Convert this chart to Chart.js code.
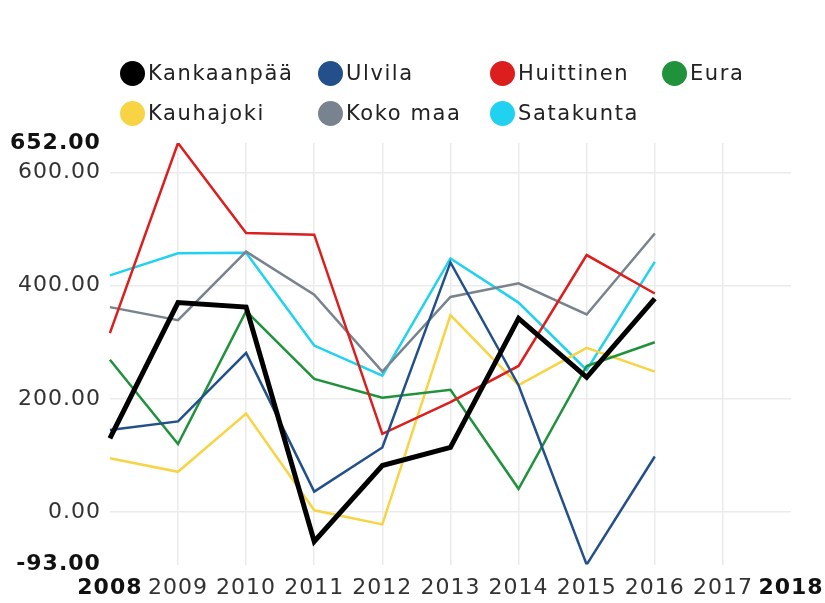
<!DOCTYPE html>
<html>
<head>
<meta charset="utf-8">
<script src="https://cdn.jsdelivr.net/npm/chart.js@4.4.1/dist/chart.umd.min.js"></script>
<style>
    html, body { margin: 0; padding: 0; background: #fff; }
    #wrap { position: relative; width: 825px; height: 603px; }
    #legend {
        position: absolute; left: 120px; top: 53px;
        display: grid; grid-template-columns: 198px 172px 172px auto;
        font: 21px "DejaVu Sans", sans-serif; color: #222; letter-spacing: 1.6px;
    }
    .item { display: flex; align-items: center; height: 40px; white-space: nowrap; }
    .dot { width: 25px; height: 25px; border-radius: 50%; margin-right: 3px; flex: none; }
</style>
</head>
<body>
<div id="wrap">
    <canvas id="chart" width="825" height="603"></canvas>
    <div id="legend"></div>
</div>
<script>
// Years on the x axis (data runs 2008-2016)
const years = ['2008', '2009', '2010', '2011', '2012', '2013', '2014', '2015', '2016', '2017', '2018'];
const yTicks = [-93, 0, 200, 400, 600, 652];

const kankaanpaa = [130, 370, 362, -52, 82, 114, 342, 238, 377];
const ulvila     = [145, 160, 281, 36, 114, 441, 224, -93, 98];
const huittinen  = [316, 652, 493, 490, 138, 194, 258, 454, 386];
const eura       = [269, 120, 355, 235, 202, 216, 41, 258, 300];
const kauhajoki  = [95, 71, 174, 3, -22, 348, 224, 290, 248];
const kokoMaa    = [362, 339, 460, 384, 248, 380, 404, 349, 492];
const satakunta  = [418, 457, 458, 294, 241, 448, 370, 251, 442];

const series = [
    { label: 'Kankaanpää', data: kankaanpaa, color: '#000000', width: 5 },
    { label: 'Ulvila', data: ulvila, color: '#23508a', width: 2.5 },
    { label: 'Huittinen', data: huittinen, color: '#dc1e1e', width: 2.5 },
    { label: 'Eura', data: eura, color: '#1f923b', width: 2.5 },
    { label: 'Kauhajoki', data: kauhajoki, color: '#f8d444', width: 2.5 },
    { label: 'Koko maa', data: kokoMaa, color: '#79838f', width: 2.5 },
    { label: 'Satakunta', data: satakunta, color: '#21d2f0', width: 2.5 }
];

const yMin = yTicks[0];
const yMax = yTicks[yTicks.length - 1];
const font = 'DejaVu Sans';

// min / max ticks are drawn bold and without grid line
const isEndX = c => c.index === 0 || c.index === years.length - 1;
const isEndY = c => !!c.tick && (c.tick.value === yMin || c.tick.value === yMax);

// the reference text is a bit wider spaced than plain DejaVu
const spacing = {
    id: 'spacing',
    beforeUpdate: chart => { chart.ctx.letterSpacing = '1px'; },
    beforeDraw: chart => { chart.ctx.letterSpacing = '1px'; }
};

new Chart(document.getElementById('chart'), {
    type: 'line',
    data: {
        labels: years,
        datasets: series.map(s => ({
            label: s.label,
            data: s.data,
            borderColor: s.color,
            backgroundColor: s.color,
            borderWidth: s.width,
            pointRadius: 0,
            tension: 0,
            fill: false
        }))
    },
    plugins: [spacing],
    options: {
        responsive: false,
        animation: false,
        layout: { padding: { left: 1, right: 0, top: 143, bottom: -8 } },
        plugins: {
            legend: { display: false },
            tooltip: { enabled: false }
        },
        scales: {
            x: {
                offset: false,
                border: { display: false },
                afterFit: scale => { scale.paddingRight = 34; },
                grid: {
                    drawTicks: false,
                    color: c => isEndX(c) ? 'rgba(0,0,0,0)' : '#ebebeb',
                    lineWidth: 1.5
                },
                ticks: {
                    padding: 10,
                    maxRotation: 0,
                    autoSkip: false,
                    color: c => isEndX(c) ? '#111' : '#333',
                    font: c => ({ family: font, size: 22, weight: isEndX(c) ? 'bold' : 'normal' })
                }
            },
            y: {
                min: yMin,
                max: yMax,
                border: { display: false },
                afterBuildTicks: scale => { scale.ticks = yTicks.map(v => ({ value: v })); },
                grid: {
                    drawTicks: false,
                    color: c => isEndY(c) ? 'rgba(0,0,0,0)' : '#ebebeb',
                    lineWidth: 1.5
                },
                ticks: {
                    padding: 9,
                    callback: v => Number(v).toFixed(2),
                    color: c => isEndY(c) ? '#111' : '#333',
                    font: c => ({ family: font, size: 22, weight: isEndY(c) ? 'bold' : 'normal' })
                }
            }
        }
    }
});

// HTML legend laid out in columns
const legend = document.getElementById('legend');
series.forEach(s => {
    const item = document.createElement('div');
    item.className = 'item';
    const dot = document.createElement('span');
    dot.className = 'dot';
    dot.style.background = s.color;
    const txt = document.createElement('span');
    txt.textContent = s.label;
    item.appendChild(dot);
    item.appendChild(txt);
    legend.appendChild(item);
});
</script>
</body>
</html>
